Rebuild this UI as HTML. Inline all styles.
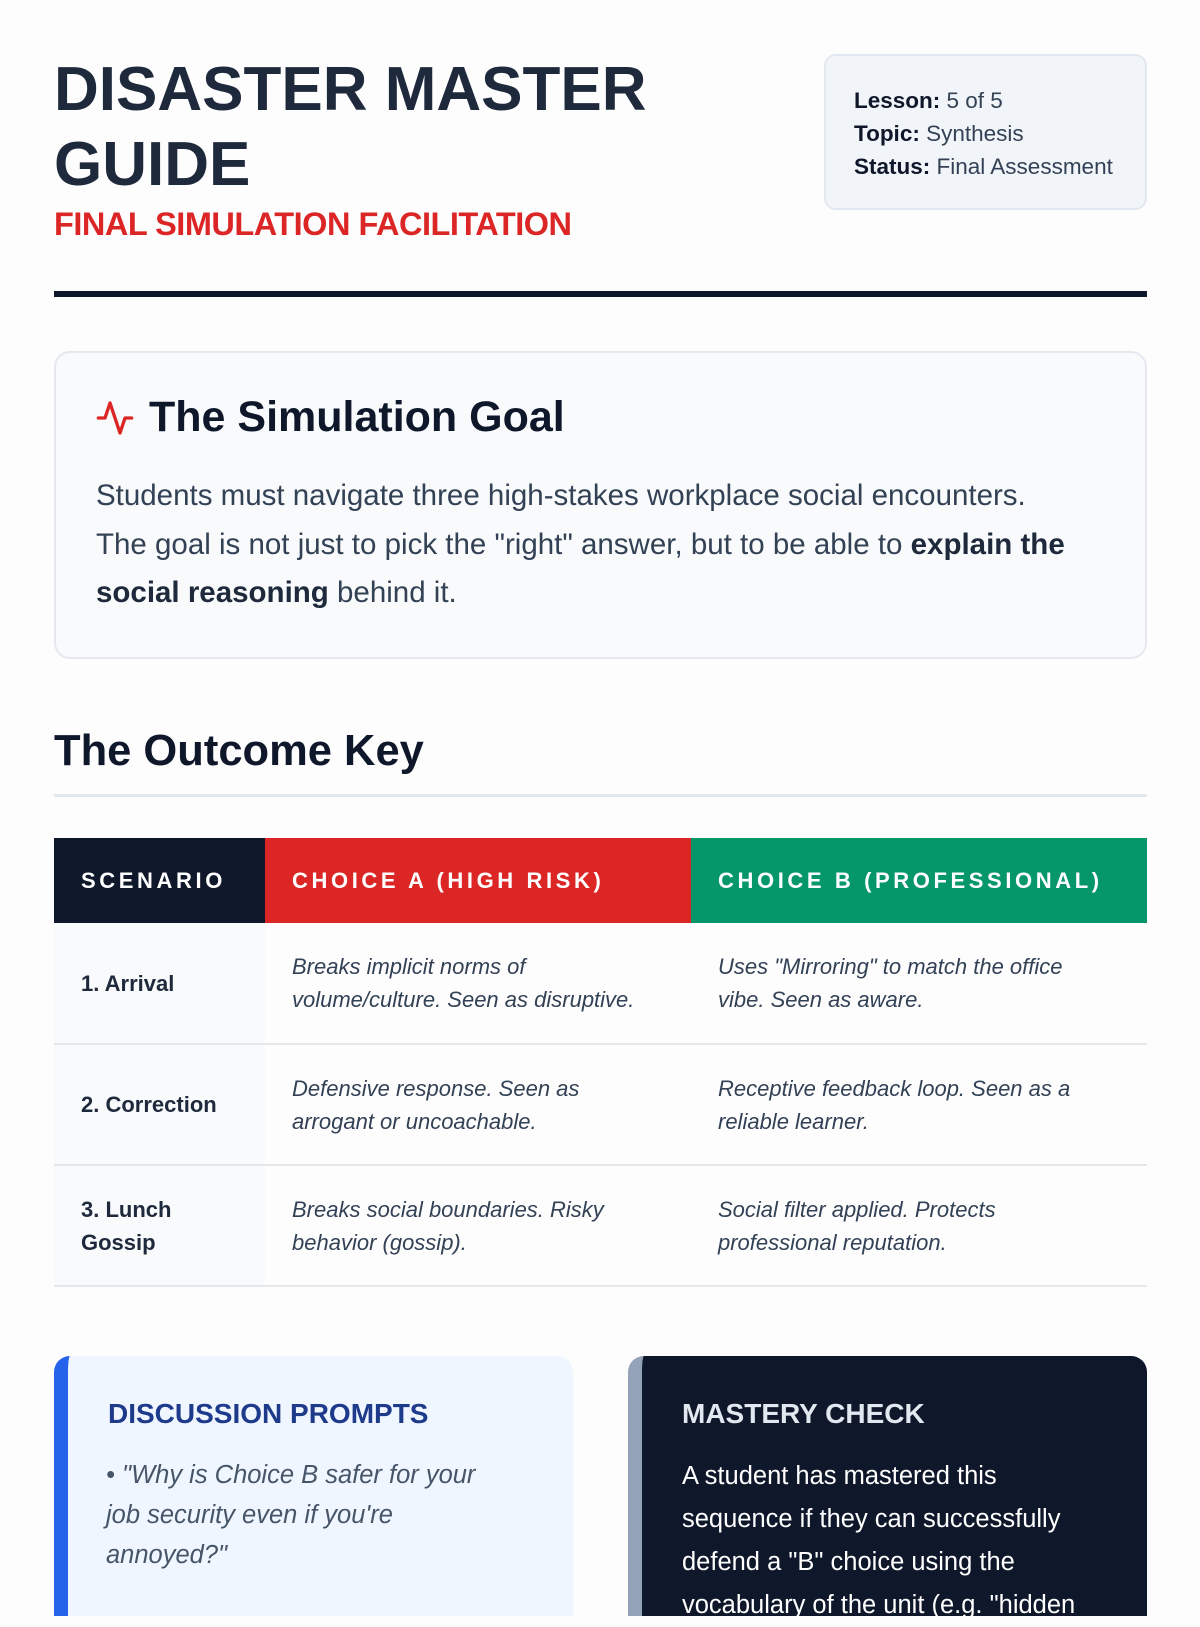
<!DOCTYPE html>
<html><head><meta charset="utf-8"><style>
*{margin:0;padding:0;box-sizing:border-box}
body{width:1200px;height:1600px;overflow:hidden;background:#fdfdfe;font-family:"Liberation Sans",sans-serif;color:#0f172a;position:relative}
.a{position:absolute;white-space:nowrap}
h1{font-size:62px;line-height:75px;font-weight:bold;color:#1e293b}
.meta{left:824px;top:54px;width:323px;height:156px;background:#f1f5f9;border:2px solid #e2e8f0;border-radius:12px;padding:28px 0 0 28px;font-size:22.5px;line-height:33px;color:#334155}
.meta b{color:#0f172a}
.goal{left:54px;top:351px;width:1093px;height:308px;background:#f8fafc;border:2px solid #e5e9ef;border-radius:16px}
table{border-collapse:collapse;position:absolute;left:54px;top:838px;width:1093px}
th{height:85px;color:#fff;font-size:22px;letter-spacing:3.6px;text-align:left;padding-left:27px;font-weight:bold;white-space:nowrap}
td{height:121px;border-bottom:2px solid #e5e7eb;padding:0 27px;font-size:22px;line-height:33px;font-style:italic;color:#334155;white-space:nowrap}
td:first-child{background:#f8fafc;font-style:normal;font-weight:bold;color:#1e293b}
</style></head><body>
<h1 class="a" style="left:54px;top:52px">DISASTER MASTER<br>GUIDE</h1>
<div class="a" style="left:54px;top:206px;font-size:32.5px;font-weight:bold;color:#dc2626;letter-spacing:-0.5px">FINAL SIMULATION FACILITATION</div>
<div class="a" style="left:54px;top:291px;width:1093px;height:6px;background:#0f172a"></div>
<div class="a meta"><b>Lesson:</b> 5 of 5<br><b>Topic:</b> Synthesis<br><b>Status:</b> Final Assessment</div>
<div class="a goal"></div>
<svg class="a" style="left:95px;top:398px" width="40" height="40" viewBox="0 0 24 24" fill="none" stroke="#dc2626" stroke-width="2" stroke-linecap="round" stroke-linejoin="round"><polyline points="22 12 18 12 15 21 9 3 6 12 2 12"/></svg>
<div class="a" style="left:149px;top:393px;font-size:43px;font-weight:bold;color:#0f172a">The Simulation Goal</div>
<div class="a" style="left:96px;top:472px;font-size:29.5px;line-height:48.5px;color:#334155">Students must navigate three high-stakes workplace social encounters.<br>The goal is not just to pick the "right" answer, but to be able to <b style="color:#1e293b">explain the</b><br><b style="color:#1e293b">social reasoning</b> behind it.</div>
<div class="a" style="left:54px;top:727px;font-size:43.5px;font-weight:bold">The Outcome Key</div>
<div class="a" style="left:54px;top:794px;width:1093px;height:3px;background:#e2e8f0"></div>
<table>
<tr><th style="background:#0f172a;width:211px">SCENARIO</th><th style="background:#dc2626;width:426px">CHOICE A (HIGH RISK)</th><th style="background:#059669">CHOICE B (PROFESSIONAL)</th></tr>
<tr><td>1. Arrival</td><td>Breaks implicit norms of<br>volume/culture. Seen as disruptive.</td><td>Uses "Mirroring" to match the office<br>vibe. Seen as aware.</td></tr>
<tr><td>2. Correction</td><td>Defensive response. Seen as<br>arrogant or uncoachable.</td><td>Receptive feedback loop. Seen as a<br>reliable learner.</td></tr>
<tr><td>3. Lunch<br>Gossip</td><td>Breaks social boundaries. Risky<br>behavior (gossip).</td><td>Social filter applied. Protects<br>professional reputation.</td></tr>
</table>
<div class="a" style="left:54px;top:1356px;width:519px;height:260px;background:#eff6ff;border-left:14px solid #2563eb;border-radius:16px 16px 0 0"></div>
<div class="a" style="left:108px;top:1398px;font-size:28px;font-weight:bold;color:#1e3a8a">DISCUSSION PROMPTS</div>
<div class="a" style="left:106px;top:1455px;font-size:25.5px;line-height:40px;font-style:italic;color:#475569">• "Why is Choice B safer for your<br>job security even if you're<br>annoyed?"</div>
<div class="a" style="left:628px;top:1356px;width:519px;height:260px;background:#0f172a;border-left:14px solid #94a3b8;border-radius:16px 16px 0 0"></div>
<div class="a" style="left:682px;top:1398px;font-size:28px;font-weight:bold;color:#e2e8f0">MASTERY CHECK</div>
<div class="a" style="left:682px;top:1455px;font-size:25.5px;line-height:43px;color:#fff">A student has mastered this<br>sequence if they can successfully<br>defend a "B" choice using the<br>vocabulary of the unit (e.g. "hidden</div>
</body></html>
